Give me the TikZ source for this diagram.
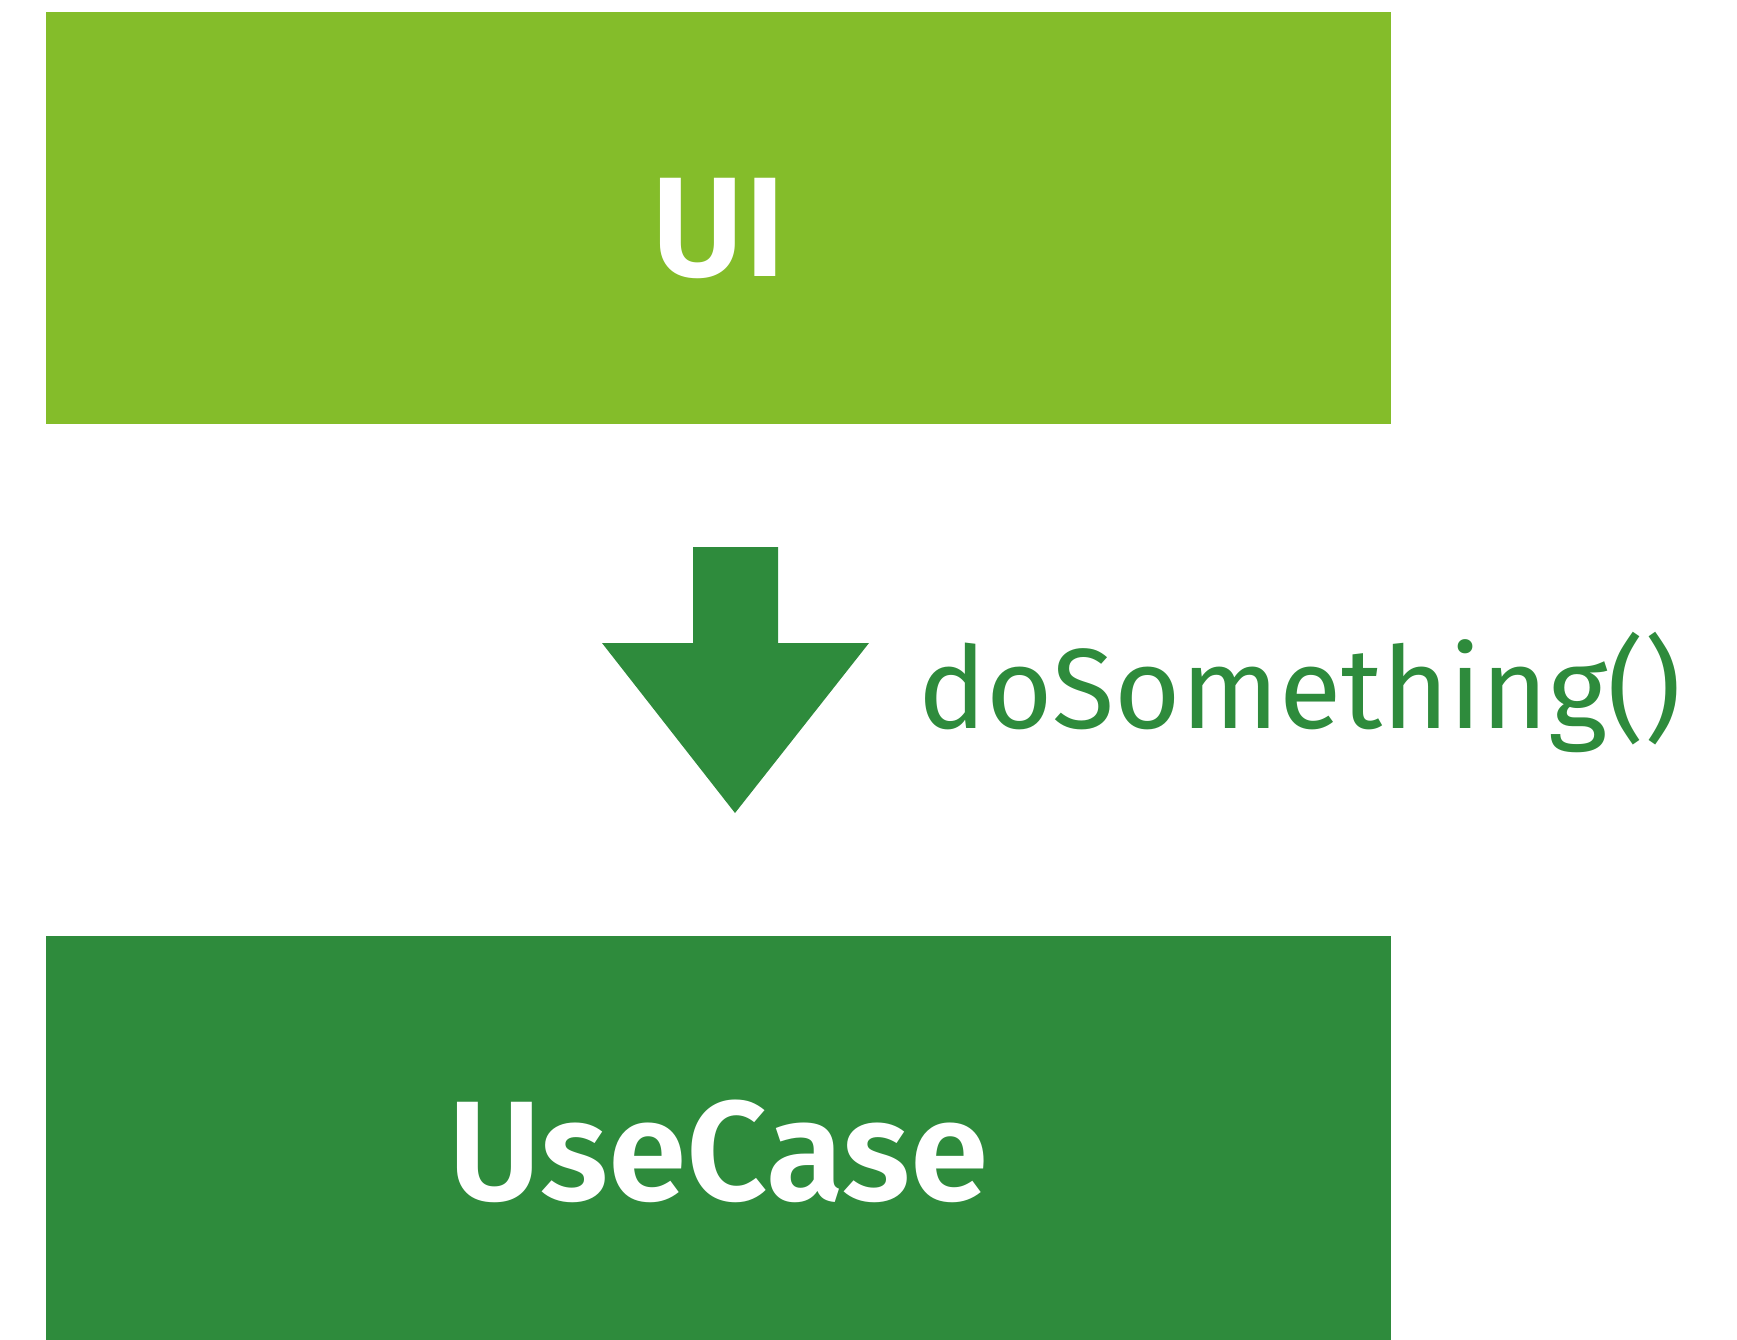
\documentclass[tikz,border=0pt]{standalone}
\usepackage{fontspec}
\setmainfont{Fira Sans}
\newfontfamily\layerfont{Fira Sans SemiBold}
\usetikzlibrary{positioning}
\definecolor{uigreen}{HTML}{84BD2A}
\definecolor{casegreen}{HTML}{2E8B3C}
\newcommand{\layer}[6]{\node[layerbox, fill=#6, minimum width=#4, minimum height=#5] (#1) at (#2,#3) {#1};}

\begin{document}
\begin{tikzpicture}[x=0.5pt,y=-0.5pt,
    layerbox/.style={rectangle, inner sep=0pt, text=white, text height=58pt, text depth=0pt,
        font=\fontsize{71}{71}\selectfont\layerfont},
    calltext/.style={text=casegreen, font=\fontsize{57}{57}\selectfont, anchor=base west}]
    \useasboundingbox (0,0) rectangle (1737,1340);
    \layer{UI}{718.5}{218}{672.5pt}{206pt}{uigreen}
    \layer{UseCase}{718.5}{1142}{672.5pt}{206pt}{casegreen}
    % call arrow
    \fill[casegreen] (693,547) -- (778,547) -- (778,643) -- (869,643)
        -- (735,813) -- (602,643) -- (693,643) -- cycle;
    \node[calltext] (call) at (911,728) {doSomething()};
\end{tikzpicture}
\end{document}
